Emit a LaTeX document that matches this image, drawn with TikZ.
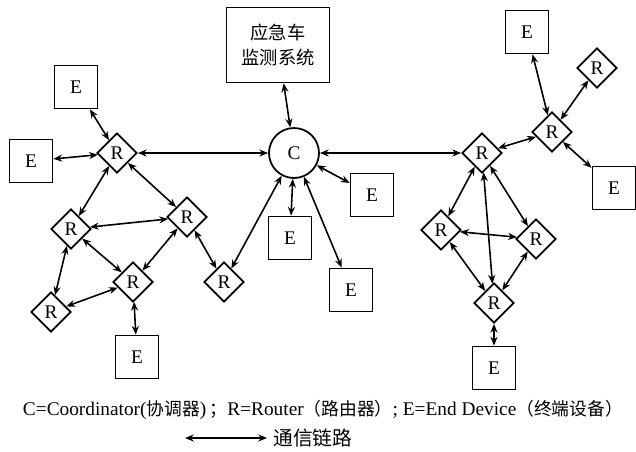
\documentclass[tikz,border=0pt]{standalone}
\usepackage{fontspec}
\setmainfont{Liberation Serif}
\newfontfamily\cjk{Noto Sans CJK SC}[Scale=0.92]
\usepackage{tikz}
\usetikzlibrary{positioning}
\usetikzlibrary{shapes.geometric}
\usetikzlibrary{arrows.meta}

\begin{document}
\begin{tikzpicture}[on grid,
		font=\fontsize{11}{13}\selectfont,
		rt/.style={diamond,draw,line width=1pt,inner sep=0pt,minimum width=0.8cm,minimum height=0.8cm},
		ed/.style={rectangle,draw,line width=1pt,minimum size=0.86cm},
		lnk/.style={{Stealth[length=5pt,width=4pt]}-{Stealth[length=5pt,width=4pt]},line width=0.9pt}]
		\useasboundingbox (0,0) rectangle (12.72,-9.02);
		% coordinator and monitoring system
		\node[circle,draw,line width=1pt,minimum size=1cm] at (5.88,-3.06) (c) {C};
		\node[above left=2.16cm and 0.32cm of c,rectangle,draw,line width=1pt,minimum width=2.06cm,minimum height=1.5cm,align=center,font=\fontsize{11.3}{14}\selectfont\cjk] (mon) {应急车\\监测系统};
		\draw[lnk] (mon) -- (c);
		
		% left cluster
		\node[rt, left=3.54cm of c] (r1) {R};
		\node[ed, above left=1.32cm and 0.82cm of r1] (e1) {E};
		\node[ed, below left=0.16cm and 1.72cm of r1] (e2) {E};
		\node[rt, below left=1.52cm and 0.92cm of r1] (r2) {R};
		\node[rt, below right=1.28cm and 1.4cm of r1] (r3) {R};
		\node[rt, below right=1.06cm and 1.24cm of r2] (r4) {R};
		\node[rt, below left=1.66cm and 0.4cm of r2] (r5) {R};
		\node[rt, below right=1.3cm and 0.74cm of r3] (r6) {R};
		\node[ed, below right=1.5cm and 0.08cm of r4] (e3) {E};
		\draw[lnk] (r1) -- (c);
		\draw[lnk] (e1) -- (r1);
		\draw[lnk] (e2) -- (r1);
		\draw[lnk] (r1) -- (r2);
		\draw[lnk] (r1) -- (r3);
		\draw[lnk] (r2) -- (r3);
		\draw[lnk] (r2) -- (r4);
		\draw[lnk] (r2) -- (r5);
		\draw[lnk] (r3) -- (r4);
		\draw[lnk] (r3) -- (r6);
		\draw[lnk] (r5) -- (r4);
		\draw[lnk] (r4) -- (e3);
		\draw[lnk] (r6) -- (c);
		
		% end devices on the coordinator
		\node[ed, below left=1.7cm and 0.08cm of c] (e4) {E};
		\node[ed, below right=0.84cm and 1.56cm of c] (e5) {E};
		\node[ed, below right=2.74cm and 1.14cm of c] (e6) {E};
		\draw[lnk] (c) -- (e4);
		\draw[lnk] (c) -- (e5);
		\draw[lnk] (c) -- (e6);
		
		% right cluster
		\node[rt, right=3.76cm of c] (r9) {R};
		\node[rt, above right=0.42cm and 1.4cm of r9] (r8) {R};
		\node[ed, above left=2cm and 0.5cm of r8] (e7) {E};
		\node[rt, above right=1.28cm and 0.9cm of r8] (r7) {R};
		\node[ed, below right=1.12cm and 1.24cm of r8] (e8) {E};
		\node[rt, below left=1.54cm and 0.82cm of r9] (r10) {R};
		\node[rt, below right=1.72cm and 1.08cm of r9] (r11) {R};
		\node[rt, below right=3cm and 0.24cm of r9] (r12) {R};
		\node[ed, below=1.3cm of r12] (e9) {E};
		\draw[lnk] (c) -- (r9);
		\draw[lnk] (e7) -- (r8);
		\draw[lnk] (r7) -- (r8);
		\draw[lnk] (r9) -- (r8);
		\draw[lnk] (r8) -- (e8);
		\draw[lnk] (r9) -- (r10);
		\draw[lnk] (r9) -- (r11);
		\draw[lnk] (r9) -- (r12);
		\draw[lnk] (r10) -- (r11);
		\draw[lnk] (r10) -- (r12);
		\draw[lnk] (r11) -- (r12);
		\draw[lnk] (r12) -- (e9);
		
		% caption and legend
		\node at (6.46,-8.2) (cap) {C=Coordinator({\cjk 协调器})\,{\cjk ；}R=Router{\cjk （路由器）}; E=End Device{\cjk （终端设备）}};
		\coordinate (la) at (3.7,-8.76);
		\coordinate (lb) at (5.34,-8.76);
		\draw[lnk] (la) -- (lb);
		\node[right=0.12cm of lb,anchor=west,inner sep=0pt,font=\fontsize{12.2}{14}\selectfont\cjk] (leg) {通信链路};
\end{tikzpicture}
\end{document}
